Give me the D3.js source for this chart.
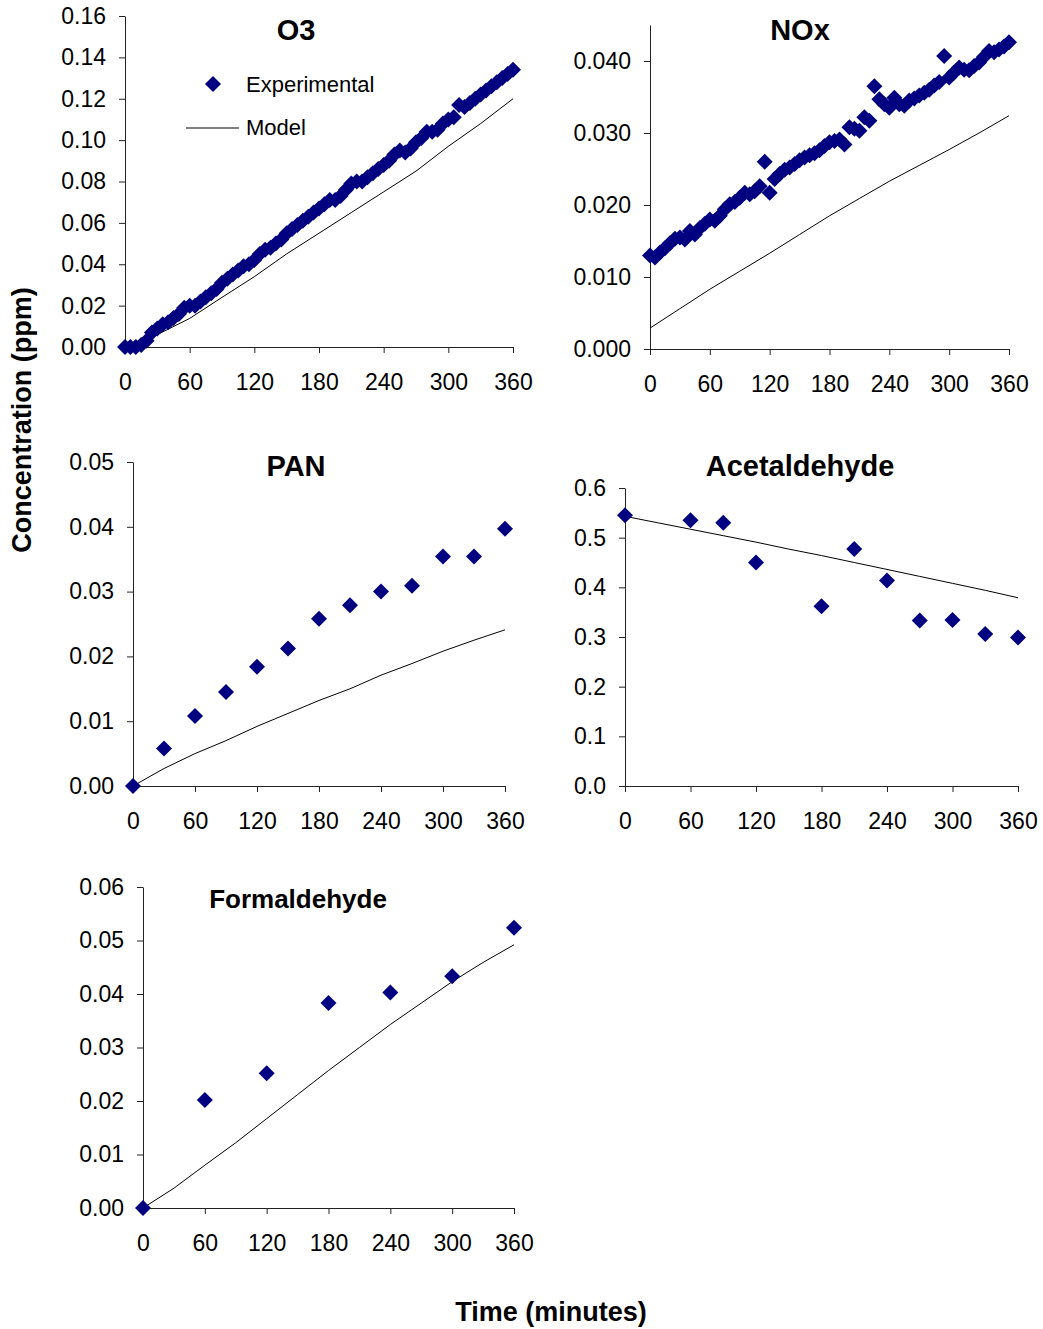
<!doctype html>
<html lang="en">
<head>
  <meta charset="utf-8">
  <title>Concentration vs time</title>
  <style type="text/css">
    body{ margin:0; background:#fff; }
    text{ font-family: "Liberation Sans", Arial, Helvetica, sans-serif; fill:#000; }
    .tick text{ font-size:23px; }
    .domain, .tick line{ stroke:#222; stroke-width:1; }
    .title{ font-size:29px; font-weight:bold; }
    .axis-title{ font-size:27px; font-weight:bold; }
    .model{ fill:none; stroke:#000; stroke-width:1; }
    .exp{ fill:#000080; }
  </style>
</head>
<body>
  <div id="vis"></div>
  <script src="https://cdn.jsdelivr.net/npm/d3@7"></script>
  <script type="text/javascript">

    var width = 1043, height = 1329;

    // O3 (ppm)
    var o3Time = [0,5,10,15,20,25,30,35,40,45,50,55,60,65,70,75,80,85,90,95,100,105,110,115,120,
      125,130,135,140,145,150,155,160,165,170,175,180,185,190,195,200,205,210,215,220,225,230,
      235,240,245,250,255,260,265,270,275,280,285,290,295,300,305,310,315,320,325,330,335,340,
      345,350,355,360];
    var o3Exp = [0,0,0,0.001,0.003,0.007,0.009,0.011,0.012,0.014,0.016,0.019,0.020,0.020,0.022,
      0.024,0.026,0.028,0.031,0.033,0.035,0.037,0.039,0.040,0.042,0.045,0.047,0.048,0.050,0.052,
      0.055,0.057,0.059,0.061,0.063,0.065,0.067,0.069,0.071,0.071,0.073,0.076,0.079,0.080,0.080,
      0.082,0.084,0.086,0.088,0.090,0.093,0.095,0.094,0.096,0.099,0.101,0.104,0.104,0.105,0.108,
      0.110,0.111,0.117,0.116,0.118,0.120,0.122,0.124,0.126,0.128,0.130,0.132,0.134];
    var modelTime = [0,30,60,90,120,150,180,210,240,270,300,330,360];
    var o3Model = [0,0.006,0.0138,0.024,0.034,0.045,0.055,0.065,0.075,0.085,0.097,0.108,0.120];

    // NOx (ppm)
    var noxTime = o3Time;
    var noxExp = [0.0130,0.0127,0.0134,0.0140,0.0147,0.0153,0.0155,0.0152,0.0164,0.0159,0.0168,
      0.0174,0.0180,0.0178,0.0185,0.0194,0.0201,0.0204,0.0210,0.0217,0.0215,0.0219,0.0226,0.0260,
      0.0217,0.0236,0.0243,0.0249,0.0252,0.0257,0.0262,0.0266,0.0269,0.0272,0.0276,0.0282,0.0287,
      0.0289,0.0291,0.0284,0.0308,0.0306,0.0303,0.0322,0.0317,0.0365,0.0347,0.0340,0.0335,0.0349,
      0.0340,0.0338,0.0345,0.0348,0.0352,0.0356,0.0360,0.0366,0.0371,0.0407,0.0377,0.0384,0.0391,
      0.0388,0.0387,0.0393,0.0398,0.0406,0.0414,0.0412,0.0416,0.0420,0.0426];
    var noxModel = [0.0029,0.0056,0.0083,0.0108,0.0133,0.0159,0.0185,0.0209,0.0233,0.0255,0.0277,
      0.0300,0.0324];

    // PAN (ppm)
    var panTime = [0,30,60,90,120,150,180,210,240,270,300,330,360];
    var panExp = [0,0.0058,0.0108,0.0145,0.0184,0.0212,0.0258,0.0279,0.0300,0.0309,0.0354,0.0354,0.0397];
    var panModel = [0,0.0027,0.0050,0.0070,0.0092,0.0112,0.0132,0.0150,0.0171,0.0189,0.0208,0.0225,0.0241];

    // Acetaldehyde (ppm)
    var acetTime = [0,60,90,120,180,210,240,270,300,330,360];
    var acetExp = [0.545,0.535,0.530,0.450,0.362,0.477,0.414,0.333,0.334,0.306,0.299];
    var acetModel = [0.543,0.530,0.517,0.504,0.491,0.477,0.464,0.450,0.436,0.422,0.408,0.394,0.379];

    // Formaldehyde (ppm)
    var formTime = [0,60,120,180,240,300,360];
    var formExp = [0,0.0202,0.0252,0.0383,0.0403,0.0433,0.0524];
    var formModel = [0,0.0037,0.0080,0.0122,0.0167,0.0212,0.0257,0.0300,0.0343,0.0383,0.0423,0.0459,0.0492];

    var xTicks = [0,60,120,180,240,300,360];

    var panels = [
      {name:'O3', t:o3Time, exp:o3Exp, model:o3Model, ymax:0.16, ystep:0.02, fmt:'.2f',
        x0:125, x1:513, y0:347, y1:16, tx:296, ty:30, legend:true},
      {name:'NOx', t:noxTime, exp:noxExp, model:noxModel, ymax:0.045, ystep:0.01, ytop:0.04, fmt:'.3f',
        x0:650, x1:1009, y0:349, y1:25, tx:800, ty:30},
      {name:'PAN', t:panTime, exp:panExp, model:panModel, ymax:0.05, ystep:0.01, fmt:'.2f',
        x0:133, x1:505, y0:786, y1:462, tx:296, ty:466},
      {name:'Acetaldehyde', t:acetTime, exp:acetExp, model:acetModel, ymax:0.6, ystep:0.1, fmt:'.1f',
        x0:625, x1:1018, y0:786, y1:488, tx:800, ty:466},
      {name:'Formaldehyde', t:formTime, exp:formExp, model:formModel, ymax:0.06, ystep:0.01, fmt:'.2f',
        x0:143, x1:514, y0:1208, y1:887, tx:298, ty:899, tsize:26}
    ];

    var svg = d3.select("#vis").append("svg")
      .attr("width", width)
      .attr("height", height);

    var diamond = "M0,-8L8,0L0,8L-8,0Z";

    panels.forEach(function(p){
      var g = svg.append('g');
      var x = d3.scaleLinear().domain([0,360]).range([p.x0,p.x1]);
      var y = d3.scaleLinear().domain([0,p.ymax]).range([p.y0,p.y1]);
      var top = p.ytop || p.ymax;
      var yTicks = d3.range(0, top + p.ystep/2, p.ystep);

      g.append('g')
        .attr('transform','translate(0,'+p.y0+')')
        .call(d3.axisBottom(x).tickValues(xTicks).tickSizeInner(6).tickSizeOuter(0)
          .tickPadding(20).tickFormat(d3.format('d')))
        .selectAll('text').attr('dy','0.35em').attr('y', 35);

      g.append('g')
        .attr('transform','translate('+p.x0+',0)')
        .call(d3.axisLeft(y).tickValues(yTicks).tickSizeInner(6).tickSizeOuter(0)
          .tickPadding(13).tickFormat(d3.format(p.fmt)));

      g.selectAll('.tick text').attr('fill','#000');

      var line = d3.line()
        .x(function(d,i){ return x(modelTime[i]); })
        .y(function(d){ return y(d); });

      g.append('path')
        .attr('class','model')
        .attr('d', line(p.model));

      g.selectAll('.exp')
        .data(p.exp)
        .enter().append('path')
        .attr('class','exp')
        .attr('d', diamond)
        .attr('transform', function(d,i){ return 'translate('+x(p.t[i])+','+y(d)+')'; });

      var title = g.append('text')
        .attr('class','title')
        .attr('x', p.tx).attr('y', p.ty)
        .attr('dy','0.35em')
        .attr('text-anchor','middle')
        .text(p.name);
      if(p.tsize) title.style('font-size', p.tsize+'px');

      if(p.legend){
        var lg = g.append('g').attr('class','legend');
        lg.append('path').attr('class','exp').attr('d', diamond)
          .attr('transform','translate(213,84)');
        lg.append('text').attr('x',246).attr('y',84).attr('dy','0.35em')
          .style('font-size','22px').text('Experimental');
        lg.append('line').attr('x1',186).attr('x2',239).attr('y1',128).attr('y2',128)
          .attr('stroke','#000').attr('stroke-width',1);
        lg.append('text').attr('x',246).attr('y',127).attr('dy','0.35em')
          .style('font-size','22px').text('Model');
      }
    });

    svg.append('text')
      .attr('class','axis-title')
      .attr('transform','translate(22,420) rotate(-90)')
      .attr('dy','0.35em')
      .attr('text-anchor','middle')
      .text('Concentration (ppm)');

    svg.append('text')
      .attr('class','axis-title')
      .attr('x',551).attr('y',1312)
      .attr('dy','0.35em')
      .attr('text-anchor','middle')
      .text('Time (minutes)');

  </script>
</body>
</html>
